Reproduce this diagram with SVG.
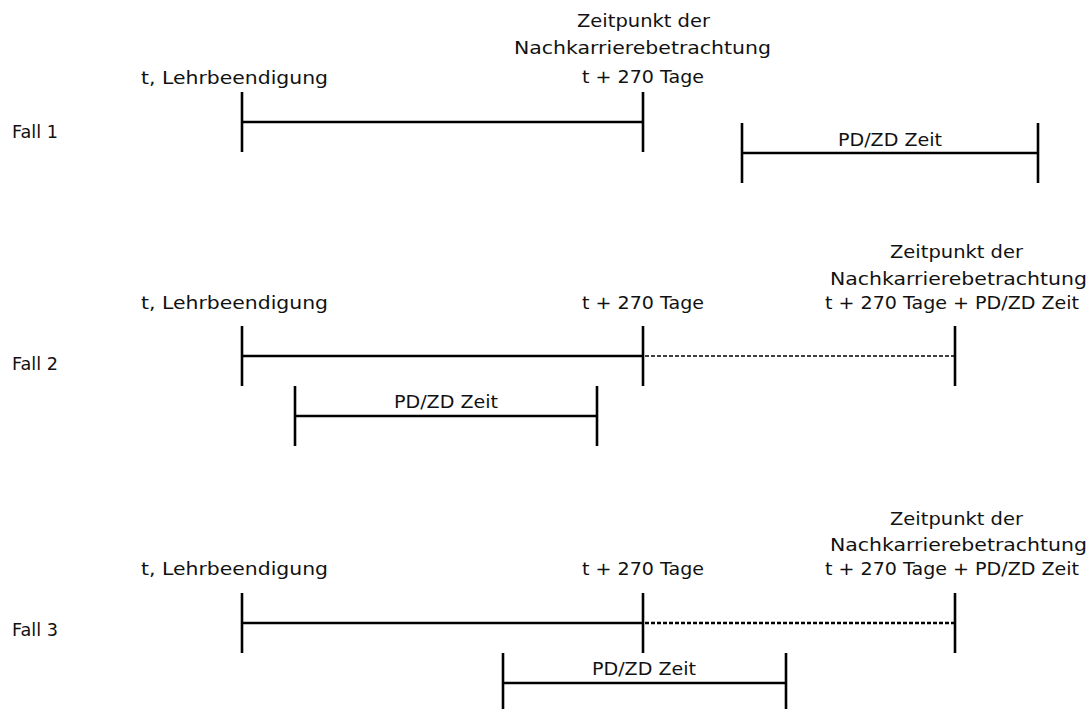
<svg xmlns="http://www.w3.org/2000/svg" width="1090" height="709" viewBox="0 0 1090 709">
<style>
text{font-family:"DejaVu Sans","Liberation Sans",sans-serif;font-size:18.5px;fill:#111}
.s{stroke:#000;stroke-width:2.6;fill:none}
.d{stroke:#000;stroke-width:1.4;fill:none;stroke-dasharray:4 2}
.d2{stroke:#000;stroke-width:2.4;fill:none;stroke-dasharray:4 2}
</style>
<rect width="1090" height="709" fill="#fff"/>
<g id="labels-fall">
<g id="fall1"><text x="12" y="138" textLength="46" lengthAdjust="spacingAndGlyphs">Fall 1</text></g>
<g id="fall2"><text x="12" y="370" textLength="46" lengthAdjust="spacingAndGlyphs">Fall 2</text></g>
<g id="fall3"><text x="12" y="636" textLength="46" lengthAdjust="spacingAndGlyphs">Fall 3</text></g>
</g>
<g id="row1">
<g id="r1-start"><text x="141" y="84" textLength="187" lengthAdjust="spacingAndGlyphs">t, Lehrbeendigung</text></g>
<g id="r1-end">
<text x="577" y="27" textLength="133" lengthAdjust="spacingAndGlyphs">Zeitpunkt der</text>
<text x="514" y="54" textLength="257" lengthAdjust="spacingAndGlyphs">Nachkarrierebetrachtung</text>
<text x="582" y="83" textLength="122" lengthAdjust="spacingAndGlyphs">t + 270 Tage</text>
</g>
<g id="r1-pd"><text x="838" y="146" textLength="104" lengthAdjust="spacingAndGlyphs">PD/ZD Zeit</text></g>
</g>
<g id="row2">
<g id="r2-start"><text x="141" y="309" textLength="187" lengthAdjust="spacingAndGlyphs">t, Lehrbeendigung</text></g>
<g id="r2-mid"><text x="582" y="309" textLength="122" lengthAdjust="spacingAndGlyphs">t + 270 Tage</text></g>
<g id="r2-end">
<text x="890" y="258" textLength="133" lengthAdjust="spacingAndGlyphs">Zeitpunkt der</text>
<text x="830" y="285" textLength="257" lengthAdjust="spacingAndGlyphs">Nachkarrierebetrachtung</text>
<text x="825" y="309" textLength="254" lengthAdjust="spacingAndGlyphs">t + 270 Tage + PD/ZD Zeit</text>
</g>
<g id="r2-pd"><text x="394" y="408" textLength="104" lengthAdjust="spacingAndGlyphs">PD/ZD Zeit</text></g>
</g>
<g id="row3">
<g id="r3-start"><text x="141" y="575" textLength="187" lengthAdjust="spacingAndGlyphs">t, Lehrbeendigung</text></g>
<g id="r3-mid"><text x="582" y="575" textLength="122" lengthAdjust="spacingAndGlyphs">t + 270 Tage</text></g>
<g id="r3-end">
<text x="890" y="525" textLength="133" lengthAdjust="spacingAndGlyphs">Zeitpunkt der</text>
<text x="830" y="551" textLength="257" lengthAdjust="spacingAndGlyphs">Nachkarrierebetrachtung</text>
<text x="825" y="575" textLength="254" lengthAdjust="spacingAndGlyphs">t + 270 Tage + PD/ZD Zeit</text>
</g>
<g id="r3-pd"><text x="592" y="675" textLength="104" lengthAdjust="spacingAndGlyphs">PD/ZD Zeit</text></g>
</g>
<g id="connectors">
<line class="s" x1="242" y1="92" x2="242" y2="152"/>
<line class="s" x1="242" y1="122" x2="643" y2="122"/>
<line class="s" x1="643" y1="92" x2="643" y2="152"/>
<line class="s" x1="742" y1="123" x2="742" y2="183"/>
<line class="s" x1="742" y1="153" x2="1038" y2="153"/>
<line class="s" x1="1038" y1="123" x2="1038" y2="183"/>
<line class="s" x1="242" y1="326" x2="242" y2="386"/>
<line class="s" x1="242" y1="356" x2="643" y2="356"/>
<line class="s" x1="643" y1="326" x2="643" y2="386"/>
<line class="d" x1="645" y1="356" x2="954" y2="356"/>
<line class="s" x1="955" y1="326" x2="955" y2="386"/>
<line class="s" x1="295" y1="386" x2="295" y2="446"/>
<line class="s" x1="295" y1="416" x2="597" y2="416"/>
<line class="s" x1="597" y1="386" x2="597" y2="446"/>
<line class="s" x1="242" y1="593" x2="242" y2="653"/>
<line class="s" x1="242" y1="623" x2="643" y2="623"/>
<line class="s" x1="643" y1="593" x2="643" y2="653"/>
<line class="d2" x1="645" y1="623" x2="954" y2="623"/>
<line class="s" x1="955" y1="593" x2="955" y2="653"/>
<line class="s" x1="503" y1="653" x2="503" y2="709"/>
<line class="s" x1="503" y1="683" x2="786" y2="683"/>
<line class="s" x1="786" y1="653" x2="786" y2="709"/>
</g>
</svg>
